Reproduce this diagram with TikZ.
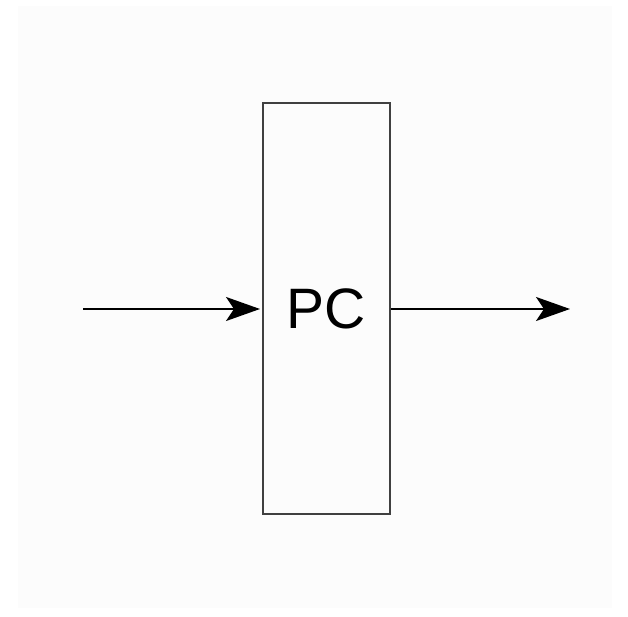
\documentclass[tikz,border=0pt]{standalone}
\usepackage{fontspec}
\setmainfont{Liberation Sans}
\usetikzlibrary{arrows.meta,positioning}

\begin{document}
\begin{tikzpicture}[
  x=1pt,y=-1pt,
  >={Stealth[length=34pt,width=24pt,inset=8pt]},
  block/.style={draw,line width=2pt,draw=black!75,minimum width=127pt,minimum height=411pt,inner sep=0pt,font=\fontsize{57}{60}\selectfont},
  flow/.style={->,line width=2.2pt}
]
\useasboundingbox (0,0) rectangle (628,617);
\fill[black!1] (18,6) rectangle (612,608);

\node[block] (PC) at (326.5,308.5) {PC};

\coordinate (in) at (83,309);
\coordinate (out) at (570,309);

\path
(in) edge[flow,shorten >=2pt] (PC.west |- in)
(PC.east |- out) edge[flow] (out);

\end{tikzpicture}
\end{document}
